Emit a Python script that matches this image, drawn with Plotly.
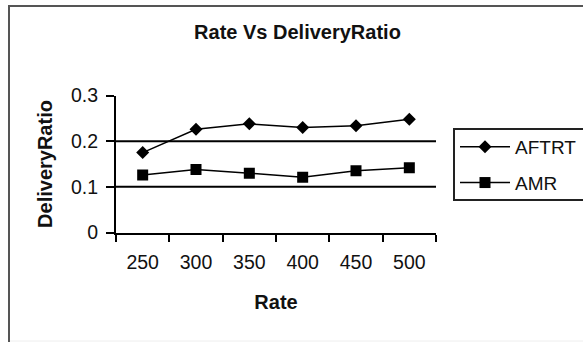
import plotly.graph_objects as go

rates = ["250", "300", "350", "400", "450", "500"]
aftrt = [0.175, 0.226, 0.238, 0.230, 0.234, 0.248]
amr = [0.126, 0.138, 0.130, 0.121, 0.135, 0.142]
y_ticks = [0, 0.1, 0.2, 0.3]
y_tick_text = ["0", "0.1", "0.2", "0.3"]
grid_vals = [0.1, 0.2]

W, H = 583, 342
FONT = "Liberation Sans, Arial, sans-serif"

fig = go.Figure()
fig.add_trace(go.Scatter(x=rates, y=aftrt, name="AFTRT", mode="lines+markers",
                         line=dict(color="black", width=1.5),
                         marker=dict(symbol="diamond", size=10, color="black"),
                         legendgroup="a"))
fig.add_trace(go.Scatter(x=rates, y=amr, name="AMR", mode="lines+markers",
                         line=dict(color="black", width=1.5),
                         marker=dict(symbol="square", size=11, color="black"),
                         legendgroup="b"))

for v in grid_vals:
    fig.add_hline(y=v, line=dict(color="black", width=2), layer="below")

# outer chart border
fig.add_shape(type="line", xref="paper", yref="paper", x0=9/W, x1=9/W, y0=0, y1=1 - 5/H,
              line=dict(color="#555555", width=2))
fig.add_shape(type="line", xref="paper", yref="paper", x0=8/W, x1=1, y0=1 - 6/H, y1=1 - 6/H,
              line=dict(color="#555555", width=2))
fig.add_shape(type="line", xref="paper", yref="paper", x0=10/W, x1=1, y0=1 / H, y1=1 / H,
              line=dict(color="#eeeeee", width=1))
# legend frame (extends past the right edge as in the original)
fig.add_shape(type="rect", xref="paper", yref="paper", x0=454/W, x1=600/W,
              y0=1 - 200/H, y1=1 - 129/H, line=dict(color="#222222", width=2))

fig.update_layout(
    width=W, height=H,
    margin=dict(l=0, r=0, t=0, b=0, autoexpand=False),
    paper_bgcolor="white", plot_bgcolor="white",
    font=dict(family=FONT, color="#111111", size=19),
    title=dict(text="<b>Rate Vs DeliveryRatio</b>", x=297.5 / W, xanchor="center",
               y=1 - 31.7 / H, yanchor="middle", font=dict(size=20, family=FONT, color="#111111")),
    xaxis=dict(domain=[116 / W, 436 / W], type="category", categoryorder="array",
               categoryarray=rates, range=[-0.5, 5.5], showgrid=False, automargin=False,
               showline=True, linecolor="black", linewidth=2,
               ticks="outside", tickson="boundaries", ticklen=7, tickwidth=1.5, tickcolor="black",
               tickfont=dict(size=19.5), ticklabelstandoff=11,
               title=dict(text="<b>Rate</b>", font=dict(size=20), standoff=23)),
    yaxis=dict(domain=[(H - 232.5) / H, (H - 95.5) / H], range=[0, 0.3], automargin=False,
               tickvals=y_ticks, ticktext=y_tick_text, showgrid=False,
               showline=True, linecolor="black", linewidth=2, zeroline=False,
               ticks="outside", ticklen=8, tickwidth=1.5, tickcolor="black",
               tickfont=dict(size=19.5), ticklabelstandoff=4,
               title=dict(text="<b>DeliveryRatio</b>", font=dict(size=20), standoff=13)),
    showlegend=True,
    legend=dict(x=455 / W, xanchor="left", y=1 - 128 / H, yanchor="top",
                borderwidth=0, bgcolor="rgba(0,0,0,0)",
                font=dict(size=19, family=FONT), tracegroupgap=8,
                itemwidth=50),
)

fig.write_html("out.html")
